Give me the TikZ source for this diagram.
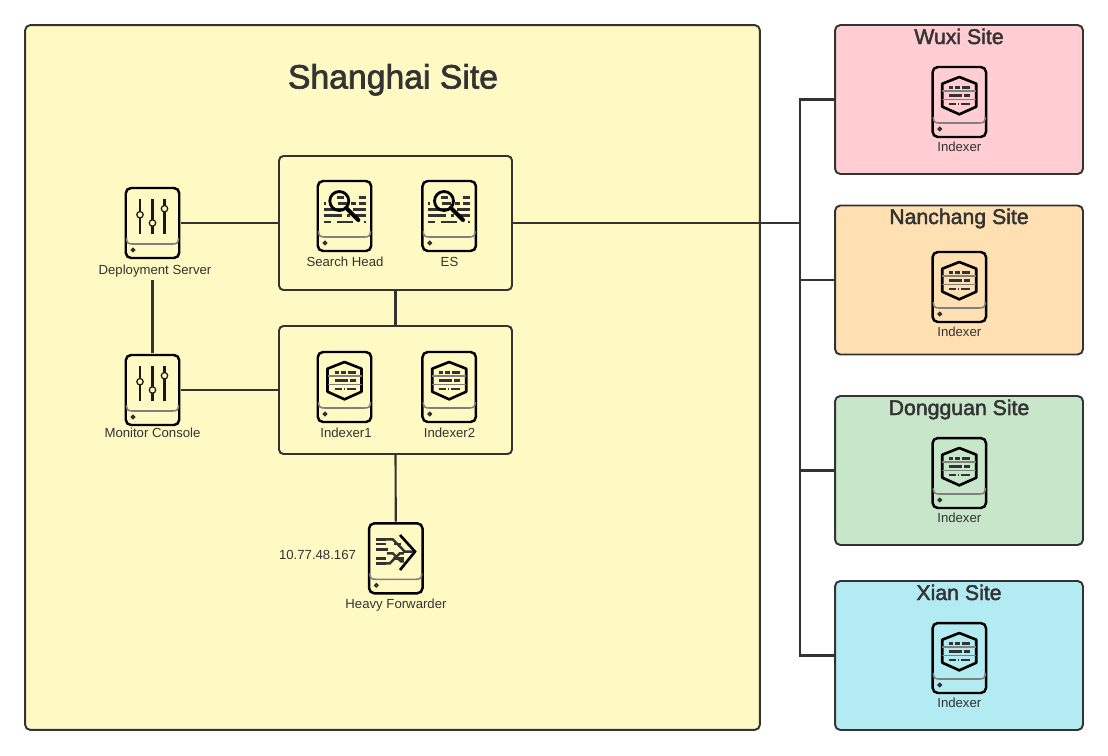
\documentclass[tikz,border=0pt]{standalone}
\usepackage{fontspec}
\setmainfont{Liberation Sans}
\newfontfamily\titlefont[FakeBold=2]{Liberation Sans}
\definecolor{shanghaiyellow}{HTML}{FFF9C4}
\definecolor{wuxipink}{HTML}{FFCDD2}
\definecolor{nanchangorange}{HTML}{FFE0B2}
\definecolor{dongguangreen}{HTML}{C8E6C9}
\definecolor{xianblue}{HTML}{B2EBF2}
\definecolor{linegray}{HTML}{333333}
\definecolor{textgray}{HTML}{333333}
\tikzset{
  sitebox/.style={draw=linegray,line width=1.1pt,rounded corners=3pt,minimum width=4.96cm,minimum height=2.98cm,inner sep=0pt},
  groupbox/.style={draw=linegray,line width=1.1pt,rounded corners=2.5pt,minimum width=4.66cm,inner sep=0pt},
  serverbox/.style={draw=black,line width=1.4pt,rounded corners=3pt,minimum width=1.07cm,minimum height=1.4cm,inner sep=0pt,outer sep=1pt},
  conn/.style={draw=linegray,line width=1.2pt},
  lbl/.style={anchor=base,text=textgray,font=\fontsize{7.5}{9}\selectfont,inner sep=1.5pt},
  sitetitle/.style={anchor=base,text=textgray,font=\titlefont\fontsize{12.1}{14}\selectfont,inner sep=0pt},
  glyph/.style={draw=black!80,line width=1.4pt},
  shelf/.pic={
    \draw[black!50,line width=.9pt] (-26,15) .. controls (-26,20) and (-24,21) .. (-20,21) -- (20,21) .. controls (24,21) and (26,20) .. (26,15);
    \draw[black!85,line width=.8pt] (-19.5,27) circle (1.6);
  },
  sliders/.pic={
    \pic {shelf};
    \foreach \x/\k in {-12.5/-8.3,0/0,12/-14.3} {
      \draw[black!90,line width=1.2pt] (\x,-23.7) -- (\x,11);
      \fill[draw=black!90,fill=white!70!yellow,line width=.7pt] (\x,\k) circle (3.2);
    }
  },
  lens/.pic={
    \pic {shelf};
    \foreach \y/\a/\b in {-18.3/-8/-1,-18.3/14/21,-12.7/-21/-19,-12.7/-7/2,-12.7/6/11,-12.7/14/21,-6.7/-21/-1,-6.7/8/21,-0.3/-21/-3,-0.3/2/5,-0.3/10/21,6/-21/-14,6/-8/8,6/19/21} {
      \draw[glyph] (\a,\y) -- (\b,\y);
    }
    \draw[black,line width=1.6pt] (-5.2,-15) circle (9.5);
    \draw[black,line width=2.3pt,line cap=round] (1.6,-8.2) -- (13.8,4);
  },
  hexa/.pic={
    \pic {shelf};
    \draw[black,line width=1.5pt,line join=round] (0,-25) -- (17,-18.3) -- (17,4.7) -- (0,12.3) -- (-17,4.7) -- (-17,-18.3) -- cycle;
    \draw[black!50,line width=.7pt] (-17,-11) -- (17,-11) (-17,-2.7) -- (17,-2.7);
    \foreach \y/\a/\b in {-14.3/-10/-6,-14.3/-4/1,-14.3/3/11,-6.3/-10/3,-6.3/5/11,2/-10/-3,2/-1/0,2/2/11} {
      \draw[glyph] (\a,\y) -- (\b,\y);
    }
  },
  merge/.pic={
    \pic {shelf};
    \draw[black,line width=1.5pt] (4.2,-23.3) -- (19.2,-6.7) -- (4.2,11.7);
    \foreach \y/\a/\b in {-19/-20/-10,-14.3/-20/-10,-9/-20/-8,0.4/-20/-10,5/-20/-10} {
      \draw[glyph] (\a,\y) -- (\b,\y);
    }
    \draw[glyph] (-10,-19) -- (-3,-19) -- (9,-6.7) -- (17,-6.7);
    \draw[glyph] (-2,-14.3) -- (5,-14.3);
    \draw[glyph] (-10,5) -- (-6,5) -- (4,-5) -- (8,-5);
    \draw[glyph] (-9,-5) -- (-3,-5) -- (5,3) -- (8,3);
    \draw[glyph] (-3,0.4) -- (8,0.4);
  }
}

\begin{document}
\begin{tikzpicture}[x=0.02cm,y=-0.02cm]
\useasboundingbox (0,0) rectangle (1108,755);

%Shanghai
\node[sitebox,fill=shanghaiyellow,minimum width=14.7cm,minimum height=14.1cm] (shanghai) at (392.5,377.5) {};
\node[anchor=base,text=textgray,font=\titlefont\fontsize{19.2}{22}\selectfont,inner sep=0pt] (shanghaititle) at (393,88.5) {Shanghai Site};

\node[groupbox,minimum height=2.68cm] (searchgroup) at (395.5,223) {};
\node[groupbox,minimum height=2.56cm] (indexgroup) at (395.5,390) {};

\foreach \name/\glyphname/\px/\py/\caption/\lx/\ly in {
  deploy/sliders/152.5/223/Deployment Server/155/274,
  monitor/sliders/152.5/390/Monitor Console/152.5/437,
  searchhead/lens/344.5/216/Search Head/345/266,
  es/lens/449.2/216/ES/449.5/266,
  indexerone/hexa/344.5/387/Indexer1/346/437,
  indexertwo/hexa/449.2/387/Indexer2/449.5/437,
  forwarder/merge/395.8/558.3/Heavy Forwarder/396/608} {
\node[serverbox] (\name) at (\px,\py) {};
\pic at (\px,\py) {\glyphname};
\node[lbl] (\name-label) at (\lx,\ly) {\caption};
}
\node[lbl] (forwarderip) at (317.5,559.5) {10.77.48.167};

%Sites
\foreach \name/\sitefill/\sy/\caption/\ty/\iy in {
  wuxi/wuxipink/99.5/Wuxi Site/44/102,
  nanchang/nanchangorange/280/Nanchang Site/224/287,
  dongguan/dongguangreen/470.5/Dongguan Site/415/473,
  xian/xianblue/655.5/Xian Site/600/658} {
\node[sitebox,fill=\sitefill] (\name) at (959,\sy) {};
\node[sitetitle] (\name-title) at (959,\ty) {\caption};
\node[serverbox] (\name-indexer) at (959.3,\iy) {};
\pic at (959.3,\iy) {hexa};
\node[lbl] (\name-label) at (959.3,\iy+49) {Indexer};
}

%Connections
\coordinate (bus) at (800,223);
\draw[conn] (deploy.east) -- (deploy.east -| searchgroup.west);
\draw[conn] (monitor.east) -- (monitor.east -| indexgroup.west);
\draw[conn] (monitor.north |- deploy-label.south) -- (monitor.north);
\draw[conn] (searchgroup.south) -- (indexgroup.north);
\draw[conn] (indexgroup.south) -- (forwarder.north);
\draw[conn] (searchgroup.east) -- (bus);
\foreach \name in {wuxi,nanchang,dongguan,xian} {
\draw[conn] (\name.west) -| (bus);
}
\end{tikzpicture}
\end{document}
